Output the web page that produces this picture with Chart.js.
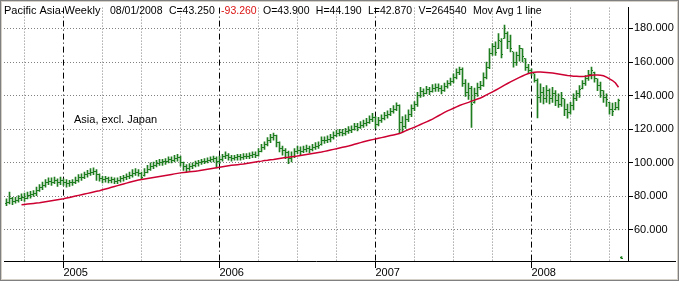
<!DOCTYPE html>
<html>
<head>
<meta charset="utf-8">
<title>Pacific Asia-Weekly</title>
<script src="https://cdn.jsdelivr.net/npm/chart.js@4/dist/chart.umd.min.js"></script>
<style>
  html, body { margin: 0; padding: 0; background: #fff; }
  #wrap { width: 679px; height: 281px; }
</style>
</head>
<body>
<div id="wrap"><canvas id="chart1" width="679" height="281"></canvas></div>
<script>
// weekly bars, 27 Aug 2004 .. 01 Aug 2008 (index = week number)
var opens = [
  76.0, 76.5, 78.5, 77.0, 77.8, 78.5, 79.5, 79.0, 80.5, 81.0,
  81.5, 83.5, 85.0, 86.5, 88.0, 89.0, 88.5, 89.5, 88.0, 89.5,
  88.5, 87.5, 88.0, 88.5, 89.5, 91.0, 91.5, 93.0, 93.5, 94.5,
  95.0, 93.0, 90.5, 90.0, 90.5, 89.5, 90.0, 89.0, 89.5, 90.5,
  91.0, 92.0, 92.5, 93.5, 94.5, 93.5, 92.5, 94.5, 96.0, 98.0,
  98.5, 99.5, 100.0, 100.5, 101.0, 102.0, 101.5, 102.5, 103.0, 100.0,
  97.5, 96.5, 98.0, 98.5, 99.5, 100.0, 100.5, 101.0, 101.5, 102.0,
  102.5, 101.0, 102.0, 103.5, 104.5, 103.0, 102.5, 103.0, 103.5, 103.0,
  103.5, 104.0, 104.5, 105.0, 104.5, 107.0, 109.0, 111.0, 113.0, 115.0,
  116.0, 112.0, 108.5, 107.5, 106.0, 102.5, 104.0, 106.5, 107.5, 107.0,
  108.0, 108.5, 108.0, 109.0, 110.0, 111.0, 113.0, 113.5, 114.0, 115.0,
  116.5, 117.5, 118.0, 117.5, 118.5, 119.5, 120.0, 121.5, 121.0, 122.5,
  123.5, 124.0, 126.0, 127.0, 123.0, 125.0, 126.5, 128.0, 129.0, 130.5,
  132.0, 134.0, 124.0, 121.5, 126.0, 129.0, 132.5, 134.5, 140.0, 142.5,
  141.5, 143.5, 142.5, 144.0, 145.0, 144.5, 143.0, 145.5, 147.0, 148.5,
  151.0, 154.0, 155.5, 147.5, 142.0, 144.5, 136.0, 141.0, 145.0, 146.0,
  151.0, 157.0, 165.0, 169.0, 168.0, 172.0, 174.0, 177.0, 172.0, 166.0,
  160.0, 164.0, 168.0, 162.0, 157.0, 155.0, 153.0, 149.0, 139.0, 142.0,
  138.0, 143.0, 138.0, 141.0, 137.0, 135.0, 138.0, 132.0, 130.0, 134.0,
  138.0, 141.0, 144.0, 147.0, 150.0, 152.5, 154.0, 150.0, 146.0, 143.0,
  139.0, 136.0, 132.0, 131.5, 133.0, 43.9
];
var highs = [
  78.5, 82.6, 79.5, 79.5, 80.5, 81.5, 82, 82.5, 83, 83.5,
  85.5, 87, 88.5, 90, 91, 91, 91.5, 90.5, 91.5, 90.5,
  90, 89.5, 90, 91.5, 93, 93.5, 94.5, 95.5, 96.5, 97,
  96, 93.5, 92, 92, 91.5, 91.5, 91, 91, 92, 92.5,
  93.5, 94.5, 96, 96.5, 96, 94.5, 96.5, 98.5, 100, 100.5,
  101.5, 102, 102, 102.5, 103.5, 103.5, 104.5, 105, 104, 100.5,
  99, 99.5, 100, 101, 101.5, 102, 102.5, 103, 103.5, 104,
  103.5, 104, 105, 106.5, 105.5, 104.5, 104.5, 105, 105, 105.5,
  105.5, 106, 106.5, 106.5, 108.5, 111, 112.5, 115, 117, 117.7,
  116.5, 112.5, 110, 108.5, 107, 106.5, 108.5, 110, 109.5, 110,
  110.5, 110, 111, 112, 112.5, 115.5, 115.5, 116, 117, 118.5,
  119.5, 120, 120, 120.5, 121.5, 122, 123.5, 123.5, 124.5, 125.5,
  126.5, 128, 129.5, 127.5, 127, 128.5, 130, 131, 132.5, 134,
  135.7, 134.5, 127.5, 128.5, 131.5, 134.5, 136.5, 142, 145, 144,
  145.5, 145, 146.5, 147, 147, 146, 147.5, 149, 150.5, 153,
  156, 157, 156.5, 149.5, 147.5, 145.5, 144.5, 147.5, 148.5, 153.5,
  160, 168, 171, 172, 177, 174, 182, 178, 176, 166,
  166, 170, 168, 162, 158.7, 156, 153, 150, 147, 145,
  146, 144, 145, 143, 141, 142, 138, 135, 136, 141,
  143, 146, 149, 152, 155, 157, 154, 150, 148, 143,
  141, 136, 135.5, 136, 138, 44.19
];
var lows = [
  74.5, 75.5, 75, 76, 76.5, 77.5, 77, 78.5, 79, 80,
  80.5, 83, 84, 85.5, 87, 86.5, 87.5, 86, 87, 86.5,
  85.5, 86, 86.5, 87.5, 88.5, 89.5, 90.5, 91.5, 92.5, 93,
  89.5, 89, 88, 88.5, 88, 88, 87.5, 87.5, 88.5, 89,
  90, 90.5, 91.5, 92.5, 92, 90.5, 92, 94, 95.5, 96.5,
  97.5, 98.5, 98.5, 99, 100, 100, 100.5, 101, 98, 95.5,
  94.5, 95.5, 96.5, 97.5, 98, 99, 99.5, 100, 100.5, 100.5,
  97, 99.5, 101, 102.5, 101.5, 101, 101.5, 101.5, 101.5, 102,
  102.5, 102.5, 103, 103, 104, 106.5, 108, 110, 112, 113.5,
  109.5, 106.5, 104.5, 102.5, 99.5, 100.5, 103, 105.5, 104.5, 106,
  106.5, 106, 107, 108, 108.5, 110.5, 111.5, 112, 112.5, 114,
  115.5, 116, 116, 116.5, 117.5, 118, 119.5, 119, 120.5, 121,
  122, 123.5, 124.5, 120.5, 122, 124, 125.5, 126.5, 128, 129.5,
  131, 118, 118.5, 120.5, 124.5, 127.5, 131, 133.5, 139, 139.5,
  141, 140.5, 142, 142.5, 142.5, 141, 142.5, 144.5, 146, 147.5,
  150, 152.5, 145.5, 139.5, 137.7, 121, 135.5, 139.5, 143.5, 145.5,
  150, 156, 164, 164, 168, 162.5, 174, 168, 166, 157,
  158, 160.5, 160, 155, 153, 152, 148, 126.7, 136, 135,
  136, 135, 136, 134, 133, 133.5, 128, 126.5, 129, 131.5,
  137, 139, 144, 146, 149, 150, 148, 143, 139, 136,
  133.5, 129, 128, 131.5, 131.5, 42.87
];
var closes = [
  76.5, 78.5, 77.0, 77.8, 78.5, 79.5, 79.0, 80.5, 81.0, 81.5,
  83.5, 85.0, 86.5, 88.0, 89.0, 88.5, 89.5, 88.0, 89.5, 88.5,
  87.5, 88.0, 88.5, 89.5, 91.0, 91.5, 93.0, 93.5, 94.5, 95.0,
  93.0, 90.5, 90.0, 90.5, 89.5, 90.0, 89.0, 89.5, 90.5, 91.0,
  92.0, 92.5, 93.5, 94.5, 93.5, 91.5, 94.0, 96.0, 98.0, 98.5,
  99.5, 100.0, 100.5, 101.0, 102.0, 101.5, 102.5, 103.0, 100.0, 97.5,
  96.5, 98.0, 98.5, 99.5, 100.0, 100.5, 101.0, 101.5, 102.0, 102.5,
  101.0, 102.0, 103.5, 104.5, 103.0, 102.5, 103.0, 103.5, 103.0, 103.5,
  104.0, 104.5, 105.0, 104.5, 107.0, 109.0, 111.0, 113.0, 115.0, 116.0,
  112.0, 108.5, 107.5, 106.0, 102.5, 104.0, 106.5, 107.5, 107.0, 108.0,
  108.5, 108.0, 109.0, 110.0, 110.5, 113.0, 113.5, 114.0, 115.0, 116.5,
  117.5, 118.0, 117.5, 118.5, 119.5, 120.0, 121.5, 121.0, 122.5, 123.5,
  124.0, 126.0, 127.0, 123.0, 125.0, 126.5, 128.0, 129.0, 130.5, 132.0,
  134.0, 124.0, 121.5, 126.0, 129.0, 132.5, 134.5, 140.0, 142.5, 141.5,
  143.5, 142.5, 144.0, 145.0, 144.5, 143.0, 145.5, 147.0, 148.5, 151.0,
  154.0, 155.5, 147.5, 142.0, 144.5, 135.0, 141.0, 145.0, 146.0, 151.0,
  157.0, 165.0, 169.0, 165.5, 173.0, 164.5, 177.0, 172.0, 168.0, 160.0,
  164.0, 168.0, 163.0, 157.0, 155.0, 153.5, 149.0, 139.0, 142.0, 138.0,
  143.0, 138.0, 141.0, 137.0, 135.0, 138.0, 132.0, 130.0, 134.0, 138.0,
  141.0, 143.5, 147.0, 150.0, 152.5, 155.0, 150.0, 146.0, 143.0, 139.0,
  137.5, 132.0, 130.5, 133.0, 137.0, 43.25
];
// "Mov Avg 1 line"
var movAvg = [
  null, null, null, null, null, 75.0, 75.2, 75.4, 75.6, 75.8,
  76.0, 76.2, 76.5, 76.8, 77.1, 77.4, 77.7, 78.0, 78.3, 78.6,
  79.0, 79.4, 79.8, 80.2, 80.6, 81.0, 81.4, 81.8, 82.2, 82.6,
  83.0, 83.4, 83.9, 84.4, 84.9, 85.4, 85.9, 86.4, 86.9, 87.4,
  87.9, 88.4, 88.9, 89.3, 89.7, 90.1, 90.4, 90.7, 91.0, 91.3,
  91.6, 91.9, 92.2, 92.5, 92.8, 93.1, 93.4, 93.7, 94.0, 94.2,
  94.4, 94.6, 94.8, 95.0, 95.2, 95.5, 95.8, 96.1, 96.4, 96.7,
  97.0, 97.3, 97.6, 97.9, 98.2, 98.5, 98.7, 98.9, 99.1, 99.3,
  99.6, 99.9, 100.2, 100.5, 100.8, 101.0, 101.3, 101.5, 101.8, 102.0,
  102.3, 102.6, 102.9, 103.1, 103.3, 103.6, 103.8, 104.0, 104.3, 104.6,
  104.9, 105.2, 105.5, 105.8, 106.1, 106.4, 106.8, 107.2, 107.6, 108.0,
  108.4, 108.8, 109.2, 109.6, 110.0, 110.5, 111.0, 111.5, 112.0, 112.5,
  113.0, 113.4, 113.8, 114.2, 114.6, 115.0, 115.4, 115.8, 116.2, 116.6,
  117.0, 117.4, 118.2, 119.0, 119.8, 120.5, 121.2, 122.0, 122.8, 123.6,
  124.4, 125.2, 126.0, 127.0, 128.0, 129.0, 130.0, 130.9, 131.7, 132.5,
  133.3, 134.1, 134.8, 135.4, 136.0, 136.7, 137.3, 138.0, 138.6, 139.5,
  140.4, 141.3, 142.2, 143.2, 144.2, 145.2, 146.2, 147.2, 148.2, 149.1,
  150.0, 150.9, 151.7, 152.5, 153.2, 153.6, 153.9, 154.0, 154.0, 153.9,
  153.8, 153.6, 153.4, 153.2, 152.9, 152.6, 152.3, 152.0, 151.8, 151.6,
  151.5, 151.4, 151.4, 151.5, 151.8, 152.1, 152.3, 152.3, 152.1, 151.8,
  151.0, 150.0, 149.0, 147.5, 145.0, null
];
// week numbers of the first week of each year, and of the quarter starts
var yearWeeks = [19, 71, 123, 175];
var yearLabels = ["2005", "2006", "2007", "2008"];
var quarterWeeks = [6, 32, 45, 58, 84, 97, 110, 136, 149, 162, 188, 201];
var priceTicks = [60, 80, 100, 120, 140, 160, 180];
// header read-out of the last bar
var headerTitle = "Pacific Asia-Weekly";
var headerFields = ["08/01/2008", "C=43.250", "-93.260", "O=43.900", "H=44.190", "L=42.870", "V=264540", "Mov Avg 1 line"];
var noteText = "Asia, excl. Japan";

var barColor = "rgb(30, 125, 30)";
var avgColor = "rgb(205, 0, 50)";
var font11 = { family: "'Liberation Sans', Arial, sans-serif", size: 11 };
var fontCss = "11px 'Liberation Sans', Arial, sans-serif";
var fieldFontCss = "10.5px 'Liberation Sans', Arial, sans-serif";

//Build datasets
var barData = lows.map((lo, i) => ({ x: i, y: [lo, highs[i]] }));
var avgData = movAvg.map((v, i) => ({ x: i, y: v }));

// white page + window frame + bottom line under the price axis
var framePlugin = {
    id: "frame",
    beforeDraw(chart) {
        let ctx = chart.ctx;
        ctx.save();
        ctx.fillStyle = "#fff";
        ctx.fillRect(0, 0, chart.width, chart.height);
        ctx.restore();
    },
    afterDraw(chart) {
        let ctx = chart.ctx;
        let area = chart.chartArea;
        ctx.save();
        ctx.strokeStyle = "#000";
        ctx.lineWidth = 1;
        ctx.beginPath();
        ctx.moveTo(area.right, area.bottom + 0.5);
        ctx.lineTo(chart.width - 3, area.bottom + 0.5);
        ctx.stroke();
        ctx.strokeStyle = "#808080";
        ctx.strokeRect(0.5, 0.5, chart.width - 1, chart.height - 1);
        ctx.strokeStyle = "#d4d0c8";
        ctx.strokeRect(1.5, 1.5, chart.width - 3, chart.height - 3);
        ctx.restore();
    }
};

// dotted quarter lines and dash-dot year lines
var vGridPlugin = {
    id: "vgrid",
    beforeDatasetsDraw(chart) {
        let ctx = chart.ctx;
        let area = chart.chartArea;
        let xs = chart.scales.x;
        ctx.save();
        ctx.lineWidth = 1;
        ctx.strokeStyle = "#808080";
        ctx.setLineDash([1, 2]);
        quarterWeeks.forEach(w => {
            let px = Math.floor(xs.getPixelForValue(w)) + 0.5;
            ctx.beginPath();
            ctx.moveTo(px, area.top);
            ctx.lineTo(px, area.bottom);
            ctx.stroke();
        });
        ctx.strokeStyle = "#000";
        ctx.setLineDash([6, 3, 1, 3]);
        yearWeeks.forEach(w => {
            let px = Math.floor(xs.getPixelForValue(w)) + 0.5;
            ctx.beginPath();
            ctx.moveTo(px, area.top);
            ctx.lineTo(px, area.bottom);
            ctx.stroke();
        });
        ctx.restore();
    }
};

// open (left) and close (right) ticks of the OHLC bars
var ohlcPlugin = {
    id: "ohlc",
    afterDatasetDraw(chart, args) {
        if (args.index != 0) return;
        let ctx = chart.ctx;
        let xs = chart.scales.x;
        let ys = chart.scales.y;
        ctx.save();
        ctx.fillStyle = barColor;
        for (let i = 0; i < closes.length; i++) {
            let c = Math.floor(xs.getPixelForValue(i));
            ctx.fillRect(c - 1, Math.round(ys.getPixelForValue(opens[i]) - 0.5), 1, 1);
            ctx.fillRect(c + 1, Math.round(ys.getPixelForValue(closes[i]) - 0.5), 1, 1);
        }
        ctx.restore();
    }
};

// header line and the note inside the plot
var textPlugin = {
    id: "texts",
    afterDraw(chart) {
        let ctx = chart.ctx;
        ctx.save();
        ctx.font = fontCss;
        ctx.textBaseline = "alphabetic";
        ctx.textAlign = "left";
        ctx.fillStyle = "#000";
        ctx.fillText(headerTitle, 4, 14);
        ctx.fillText(noteText, 74, 123);
        // fields run from x=110 to the start of "Mov Avg" at x=473
        ctx.font = fieldFontCss;
        let widths = headerFields.map(t => ctx.measureText(t).width);
        let used = widths.slice(0, -1).reduce((a, b) => a + b, 0);
        let gap = (473 - 110 - used) / (headerFields.length - 1);
        let x = 110;
        headerFields.forEach((t, i) => {
            ctx.fillStyle = t.charAt(0) == "-" ? "rgb(220, 20, 20)" : "#000";
            ctx.fillText(t, i == headerFields.length - 1 ? 473 : x, 14);
            x += widths[i] + gap;
        });
        ctx.restore();
    }
};

var ctx = document.getElementById("chart1").getContext("2d");
var chart1 = new Chart(ctx, {
    type: "bar",
    data: {
        datasets: [
            {
                type: "bar",
                label: "Pacific Asia",
                data: barData,
                backgroundColor: barColor,
                borderWidth: 0,
                barThickness: 1,
                order: 2
            },
            {
                type: "line",
                label: "Mov Avg",
                data: avgData,
                borderColor: avgColor,
                borderWidth: 1.5,
                pointRadius: 0,
                tension: 0,
                spanGaps: false,
                order: 1
            }
        ]
    },
    options: {
        responsive: false,
        animation: false,
        devicePixelRatio: 1,
        layout: { padding: { left: 4, top: 2, right: 0, bottom: 0 } },
        plugins: { legend: { display: false }, tooltip: { enabled: false } },
        scales: {
            x: {
                type: "linear",
                position: "bottom",
                min: -0.8333,
                max: 207.1667,
                offset: false,
                grid: { drawOnChartArea: false, offset: false, tickLength: 7, tickColor: "#000" },
                border: { color: "#000" },
                ticks: {
                    align: "start",
                    padding: -2,
                    color: "#000",
                    font: font11,
                    autoSkip: false,
                    maxRotation: 0,
                    callback: (value, index) => yearLabels[index]
                },
                afterBuildTicks: scale => { scale.ticks = yearWeeks.map(w => ({ value: w })); },
                afterFit: scale => { scale.height = 20; }
            },
            y: {
                type: "linear",
                position: "right",
                min: 41.53,
                max: 192.41,
                grid: { color: "#808080", tickLength: 5, tickColor: "#000" },
                border: { color: "#000", dash: [1, 2] },
                ticks: {
                    padding: 1,
                    color: "#000",
                    font: font11,
                    callback: value => value.toFixed(3)
                },
                afterBuildTicks: scale => { scale.ticks = priceTicks.map(v => ({ value: v })); },
                afterFit: scale => { scale.width = 51; }
            }
        }
    },
    plugins: [framePlugin, vGridPlugin, ohlcPlugin, textPlugin]
});
</script>
</body>
</html>
